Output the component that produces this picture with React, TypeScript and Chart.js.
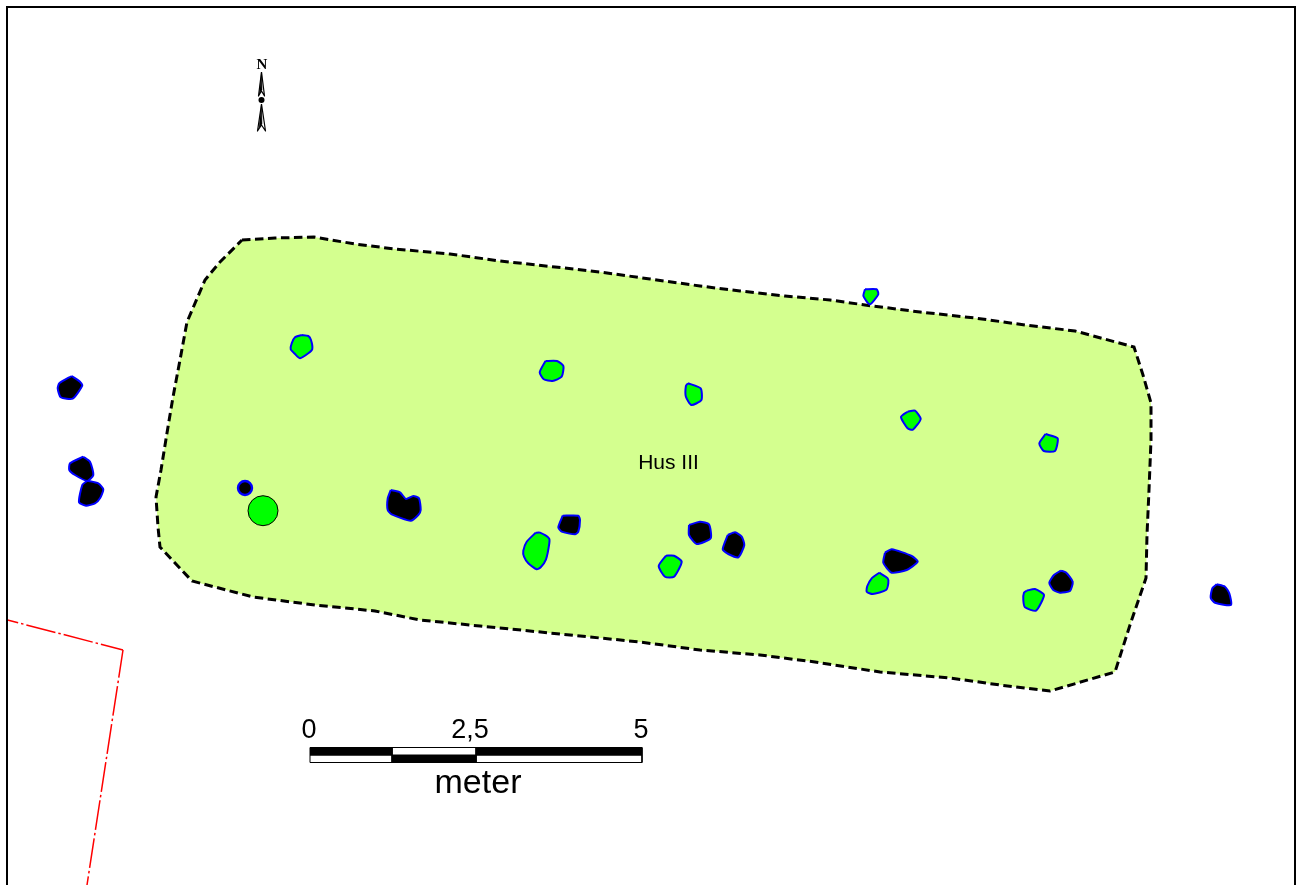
import React, { useEffect, useRef } from "react";
import { Chart, registerables } from "chart.js";

Chart.register(...registerables);

type P = [number, number];

// Site outline (map coordinates)
const house: P[] = [[242,240],[275,238],[314,237],[355,244],[395,249],[450,254],[500,261],[555,267],[600,272],[650,279],[700,286],[740,291],[785,296],[830,300],[865,305],[920,312],[975,318],[1025,325],[1075,331],[1134,347],[1143,375],[1151,403],[1151,440],[1149,490],[1147,535],[1146,578],[1130,625],[1115,672],[1050,691],[1000,685],[950,678],[880,672],[815,662],[760,655],[700,650],[640,642],[560,634],[480,626],[420,620],[375,611],[315,605],[253,597],[192,581],[160,547],[158,527],[156,497],[161,470],[167,433],[173,397],[180,360],[187,322],[205,280],[220,262],[242,240]];

// Black features
const blackA: P[] = [[71.7,376],[80,381.7],[82.3,385.7],[72.7,398.7],[60.7,397.3],[57.7,388.3],[59.3,383.3]];
const blackB: P[] = [[83.3,456.7],[90,461.7],[93.3,475],[87.3,481],[75,475],[69.3,470],[70,463.3]];
const blackC: P[] = [[87.3,480.7],[98.3,483.3],[103.3,489.3],[100,498.3],[95,503.3],[86,505.7],[79,502.3],[82.3,485]];
const blackD: P[] = [[390.7,490],[400,492.3],[406,499],[413.3,496],[419,498.3],[420.7,510],[418.3,515],[410.7,520.7],[391.7,514.3],[387.7,510],[387.7,498.3]];
const blackE: P[] = [[562.7,515.7],[578.3,515.7],[580,520],[578.3,531.7],[575,534.3],[561.7,531.7],[558.3,527.3]];
const blackG: P[] = [[689,525],[700,521.7],[709,524.3],[710.7,538.3],[696.7,544],[689,535]];
const blackH: P[] = [[727.7,535],[735,532.3],[741.7,536.7],[744.3,545],[738.3,557.3],[728.3,554],[722.7,549.3]];
const blackJ: P[] = [[885,552.7],[891.7,549.3],[911.7,556],[917.7,561.7],[906.7,570],[891.7,572.7],[883.3,562.7]];
const blackL: P[] = [[1061,570.7],[1066,572.5],[1072.7,581.7],[1070,591],[1060,592.7],[1053.3,590],[1049.3,582.7],[1054,575]];
const blackN: P[] = [[1216.7,584.3],[1225,586.7],[1229.3,593.3],[1231,605],[1215,602.7],[1210.7,597.7],[1212.3,588.3]];

// Green features
const greenA: P[] = [[301.7,335],[308.3,336],[311,340],[312.3,349],[308.3,353.3],[300,358.3],[295,354],[290.7,349.3],[291.7,343.3],[295,337.3]];
const greenF: P[] = [[535.7,532.7],[540,532.7],[549,538.3],[549.3,543.3],[546,559.3],[540.7,567.3],[536.7,569.3],[528.3,563.3],[524,556.7],[523.3,550.7],[526.7,541.7]];
const greenI: P[] = [[666,555.7],[674,555.7],[681.7,561.7],[674,576.7],[665,576.7],[658.7,566]];
const greenK: P[] = [[879.3,572.7],[887.7,578.3],[888.3,583.3],[886,590],[872.7,594],[866.7,591.7],[867.3,586],[871.7,578.3]];
const greenM: P[] = [[1026.7,590.7],[1035,589],[1044,595],[1036,610.7],[1025,607.3],[1023.3,600],[1024,592.7]];
const greenO: P[] = [[545.5,361],[557,361],[563.4,366],[561.7,376.7],[552.4,381],[543.8,379.3],[539.7,372.3]];
const greenP: P[] = [[688,383.3],[700.7,388.3],[701.4,400],[691.4,405],[685.9,396.7],[685.9,386]];
const greenQ: P[] = [[865,289.3],[876.6,289.3],[878.3,294.3],[869.7,304.3],[863.4,296]];
const greenR: P[] = [[907.6,411.7],[915,410.7],[920.7,419],[912.8,429.7],[907.6,428.3],[901,417]];
const greenS: P[] = [[1045.5,434],[1057.6,438.3],[1055,451],[1043.8,451],[1039.3,443.3]];

const postBlack: P[] = [[245,488]];
const postGreen: P[] = [[263,510.7]];

// Boundary and frame
const redLegA: P[] = [[7.5,620],[123,650]];
const redLegB: P[] = [[123,650],[87,885]];
const frame: P[] = [[7,890],[7,7],[1295,7],[1295,890]];

// Scale bar breaks: 0, 1.25, 2.5, 5 m
const barX = [310, 392, 476, 642];
const barY = [747.5, 755, 762.5];

// North arrow
const arrowUpOutline: P[] = [[261.5,72],[264.5,96],[261.5,91],[258.5,96]];
const arrowUpHalf: P[] = [[261.5,72],[262,90],[259.5,93]];
const arrowDownOutline: P[] = [[261.5,104],[265.5,131],[261.5,125],[257.5,131]];
const arrowDownHalf: P[] = [[261.5,104],[262,124],[259,128]];
const arrowDot: P[] = [[261.5,100]];

const labels: { text: string; at: P; font: string }[] = [
  { text: "N", at: [262, 65], font: 'bold 15px "Liberation Serif"' },
  { text: "Hus III", at: [668.5, 463], font: '21px "Liberation Sans"' },
  { text: "0", at: [309, 731], font: '27px "Liberation Sans"' },
  { text: "2,5", at: [470, 731], font: '27px "Liberation Sans"' },
  { text: "5", at: [641, 731], font: '27px "Liberation Sans"' },
  { text: "meter", at: [478, 784], font: '34px "Liberation Sans"' },
];

const BLUE = "#0000ff";
const GREEN = "#00ff00";
const pts = (a: P[]) => a.map(([x, y]) => ({ x, y }));
const loop = (a: P[]) => pts([...a, a[0]]);
const rect = (x0: number, y0: number, x1: number, y1: number): P[] => [[x0, y0], [x1, y0], [x1, y1], [x0, y1]];

const poly = (a: P[], fill: string, stroke: string, width: number, order: number, tension = 0) => ({
  data: loop(a),
  showLine: true,
  fill: "shape" as const,
  backgroundColor: fill,
  borderColor: stroke,
  borderWidth: width,
  borderJoinStyle: "round" as const,
  pointRadius: 0,
  tension,
  order,
  clip: false as const,
});

const path = (a: P[], stroke: string, width: number, dash: number[], order: number, offset = 0) => ({
  data: pts(a),
  showLine: true,
  fill: false,
  borderColor: stroke,
  borderWidth: width,
  borderDash: dash,
  borderDashOffset: offset,
  borderJoinStyle: "miter" as const,
  pointRadius: 0,
  tension: 0,
  order,
  clip: false as const,
});

const dot = (a: P[], fill: string, stroke: string, radius: number, width: number, order: number) => ({
  data: pts(a),
  showLine: false,
  pointRadius: radius,
  pointBackgroundColor: fill,
  pointBorderColor: stroke,
  pointBorderWidth: width,
  order,
  clip: false as const,
});

const textPlugin = {
  id: "mapText",
  afterDatasetsDraw(chart: any) {
    const { ctx, scales } = chart;
    ctx.save();
    ctx.fillStyle = "#000";
    ctx.textAlign = "center";
    ctx.textBaseline = "middle";
    for (const l of labels) {
      ctx.font = l.font;
      ctx.fillText(l.text, scales.x.getPixelForValue(l.at[0]), scales.y.getPixelForValue(l.at[1]));
    }
    ctx.restore();
  },
};

export default function App() {
  const ref = useRef<HTMLCanvasElement>(null);
  useEffect(() => {
    const blacks = [blackA, blackB, blackC, blackD, blackE, blackG, blackH, blackJ, blackL, blackN];
    const greens = [greenA, greenF, greenI, greenK, greenM, greenO, greenP, greenQ, greenR, greenS];
    const chart = new Chart(ref.current as HTMLCanvasElement, {
      type: "scatter",
      data: {
        datasets: [
          path(frame, "#000000", 2, [], 1),
          poly(house, "#d4ff8f", "rgba(0,0,0,0)", 0, 10),
          path(house, "#000000", 3, [8.5, 4.5], 9),
          path(redLegA, "#ff0000", 1.5, [30, 3, 2.5, 3], 8, 19),
          path(redLegB, "#ff0000", 1.5, [30, 3, 2.5, 3], 8, 2),
          ...blacks.map((b) => poly(b, "#000000", BLUE, 2, 5, 0.2)),
          ...greens.map((g) => poly(g, GREEN, BLUE, 2, 5, 0.2)),
          dot(postBlack, "#000000", BLUE, 7, 2.4, 4),
          dot(postGreen, GREEN, "#000000", 15, 1, 4),
          poly(rect(barX[0], barY[0], barX[1], barY[1]), "#000000", "#000000", 1, 3),
          poly(rect(barX[1], barY[0], barX[2], barY[1]), "#ffffff", "#000000", 1, 3),
          poly(rect(barX[2], barY[0], barX[3], barY[1]), "#000000", "#000000", 1, 3),
          poly(rect(barX[0], barY[1], barX[1], barY[2]), "#ffffff", "#000000", 1, 3),
          poly(rect(barX[1], barY[1], barX[2], barY[2]), "#000000", "#000000", 1, 3),
          poly(rect(barX[2], barY[1], barX[3], barY[2]), "#ffffff", "#000000", 1, 3),
          poly(arrowUpOutline, "#ffffff", "#000000", 1.2, 3),
          poly(arrowUpHalf, "#000000", "#000000", 0.5, 2),
          poly(arrowDownOutline, "#ffffff", "#000000", 1.2, 3),
          poly(arrowDownHalf, "#000000", "#000000", 0.5, 2),
          dot(arrowDot, "#000000", "#000000", 3, 0, 1),
        ] as any,
      },
      options: {
        responsive: false,
        devicePixelRatio: 1,
        animation: false,
        layout: { padding: 0, autoPadding: false },
        events: [],
        plugins: { legend: { display: false }, tooltip: { enabled: false }, title: { display: false } },
        scales: {
          x: { type: "linear", min: 0, max: 1303, display: false },
          y: { type: "linear", min: 0, max: 885, reverse: true, display: false },
        },
      },
      plugins: [textPlugin],
    });
    return () => chart.destroy();
  }, []);
  return (
    <canvas
      ref={ref}
      width={1303}
      height={885}
      style={{ position: "absolute", left: 0, top: 0, display: "block", background: "#fff" }}
    />
  );
}
